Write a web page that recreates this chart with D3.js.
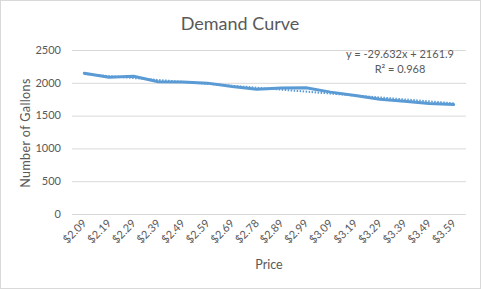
<!DOCTYPE html>
<html>
<head>
<meta charset="utf-8">
<script src="https://cdn.jsdelivr.net/npm/d3@7"></script>
<style>
  body { margin: 0; background: #fff; }
  svg { display: block; font-family: Lato, "Open Sans", sans-serif; }
</style>
</head>
<body>
<script>
// chart data
var prices = ["$2.09", "$2.19", "$2.29", "$2.39", "$2.49", "$2.59", "$2.69", "$2.78",
              "$2.89", "$2.99", "$3.09", "$3.19", "$3.29", "$3.39", "$3.49", "$3.59"];
var gallons = [2145, 2084, 2099, 2017, 2012, 1995, 1942, 1903,
               1922, 1926, 1858, 1808, 1750, 1717, 1686, 1668];
var yTicks = [0, 500, 1000, 1500, 2000, 2500];
var trendCoef = [-29.632, 2161.9]; // slope, intercept (x = 1..n)
var trendText = ["y = -29.632x + 2161.9", "R\u00b2 = 0.968"];

var width = 481, height = 289;
var grey = "#595959", blue = "#5b9bd5";

var svg = d3.select("body").append("svg")
  .attr("width", width)
  .attr("height", height);

svg.append("rect")
  .attr("x", 0.5).attr("y", 0.5)
  .attr("width", width - 1).attr("height", height - 1)
  .attr("fill", "#fff").attr("stroke", "#d9d9d9");

var x = d3.scaleBand().domain(prices).range([72, 466]);
var y = d3.scaleLinear().domain([0, 2500]).range([214, 50]);

// gridlines
svg.append("g").selectAll("line")
  .data(yTicks)
  .join("line")
  .attr("x1", 72).attr("x2", 466)
  .attr("y1", function(d) { return y(d) + 0.5; })
  .attr("y2", function(d) { return y(d) + 0.5; })
  .attr("stroke", "#d9d9d9");

// y tick labels
svg.append("g").selectAll("text")
  .data(yTicks)
  .join("text")
  .attr("x", 61)
  .attr("y", function(d) { return y(d); })
  .attr("dy", "0.35em")
  .attr("text-anchor", "end")
  .attr("fill", grey)
  .style("font-size", "11px")
  .text(function(d) { return d; });

// x tick labels
svg.append("g").selectAll("text")
  .data(prices)
  .join("text")
  .attr("transform", function(d) {
    return "translate(" + (x(d) + x.bandwidth() / 2 + 3) + ",224) rotate(-45)";
  })
  .attr("text-anchor", "end")
  .attr("fill", grey)
  .style("font-size", "11px")
  .text(function(d) { return d; });

var cx = function(d, i) { return x(prices[i]) + x.bandwidth() / 2; };

// trendline (dotted)
var trend = prices.map(function(p, i) { return trendCoef[0] * (i + 1) + trendCoef[1]; });
svg.append("path")
  .datum(trend)
  .attr("fill", "none")
  .attr("stroke", blue)
  .attr("stroke-width", 2)
  .attr("stroke-dasharray", "1.5,1.5")
  .attr("d", d3.line().x(cx).y(function(d) { return y(d); }));

// main series
svg.append("path")
  .datum(gallons)
  .attr("fill", "none")
  .attr("stroke", blue)
  .attr("stroke-width", 3)
  .attr("stroke-linejoin", "round")
  .attr("stroke-linecap", "round")
  .attr("d", d3.line().x(cx).y(function(d) { return y(d); }));

// trend equation
svg.append("g").selectAll("text")
  .data(trendText)
  .join("text")
  .attr("x", 400)
  .attr("y", function(d, i) { return 58 + i * 15; })
  .attr("text-anchor", "middle")
  .attr("fill", grey)
  .style("font-size", "11px")
  .text(function(d) { return d; });

// titles
svg.append("text")
  .attr("x", 240).attr("y", 30)
  .attr("text-anchor", "middle")
  .attr("fill", grey)
  .style("font-size", "18px")
  .text("Demand Curve");

svg.append("text")
  .attr("x", 269).attr("y", 269)
  .attr("text-anchor", "middle")
  .attr("fill", grey)
  .style("font-size", "12.5px")
  .text("Price");

svg.append("text")
  .attr("transform", "translate(30,133) rotate(-90)")
  .attr("text-anchor", "middle")
  .attr("fill", grey)
  .style("font-size", "12.5px")
  .style("letter-spacing", "0.4px")
  .text("Number of Gallons");
</script>
</body>
</html>
